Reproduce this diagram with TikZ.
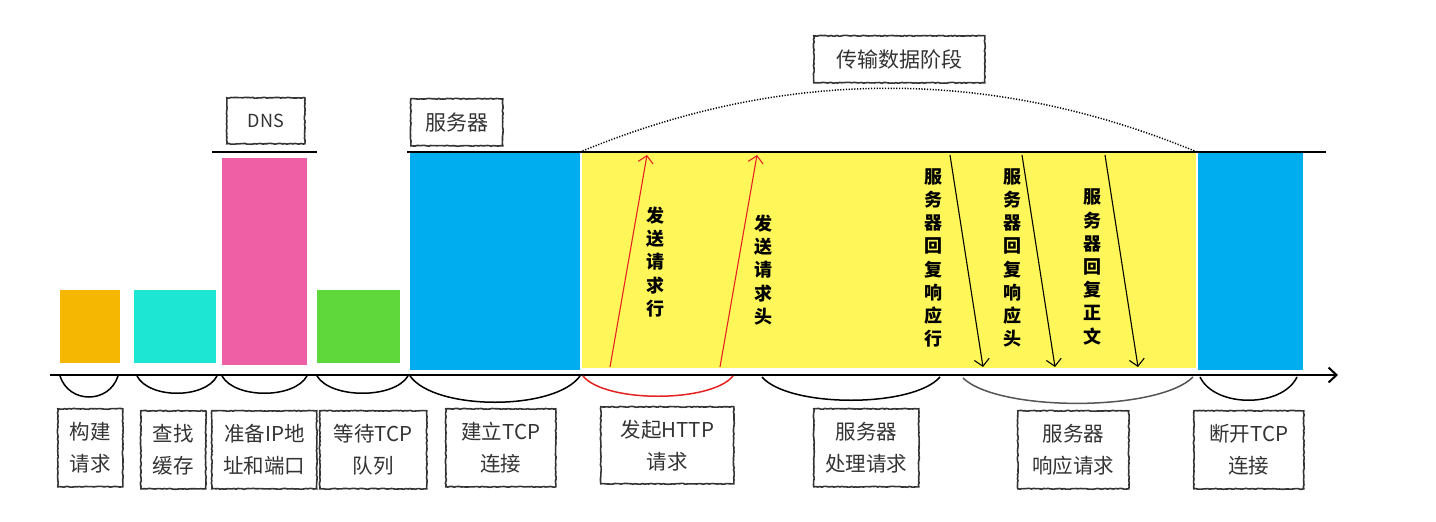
\documentclass[tikz,border=0pt]{standalone}
\usepackage{fontspec}
\setmainfont{Noto Sans CJK SC}
\usetikzlibrary{arrows.meta,decorations.pathmorphing}

\definecolor{ink}{HTML}{333333}
\definecolor{cOrange}{HTML}{F6B703}
\definecolor{cCyan}{HTML}{1DE6D2}
\definecolor{cPink}{HTML}{EE5FA5}
\definecolor{cGreen}{HTML}{5FD83B}
\definecolor{cBlue}{HTML}{00AEEF}
\definecolor{cYellow}{HTML}{FFF75A}
\definecolor{cRed}{HTML}{E52222}
\definecolor{cGrey}{HTML}{555555}

\tikzset{
  bar/.style={anchor=north west, inner sep=0pt, outer sep=0pt, draw=none},
  lbl/.style={anchor=north west, draw=ink, line width=1.6pt, text=ink,
    align=center, inner sep=0pt,
    font=\fontsize{20.5}{32}\selectfont,
    decorate, decoration={random steps, segment length=2pt, amplitude=0.45pt}},
  toplbl/.style={lbl, font=\fontsize{21}{26}\selectfont},
  vtext/.style={align=center, inner sep=0pt, text=black,
    font=\bfseries\fontsize{18}{23.2}\selectfont},
  brace/.style={line width=1.5pt, draw=black},
  upmsg/.style={cRed, line width=1.1pt, -{Straight Barb[length=7pt,width=15pt]}},
  downmsg/.style={black, line width=1.1pt, -{Straight Barb[length=7pt,width=15pt]}},
  rule/.style={line width=1.9pt, black}
}

\begin{document}
\begin{tikzpicture}[x=1pt,y=-1pt]
\useasboundingbox (0,0) rectangle (1436,522);

% phase bars
\node[bar, fill=cOrange, minimum width=60, minimum height=73] (b1) at (60,290) {};
\node[bar, fill=cCyan, minimum width=82, minimum height=73] (b2) at (134,290) {};
\node[bar, fill=cPink, minimum width=85, minimum height=207] (b3) at (222,158) {};
\node[bar, fill=cGreen, minimum width=83, minimum height=73] (b4) at (317,290) {};
\node[bar, fill=cBlue, minimum width=170, minimum height=217] (b5) at (410,153) {};
\node[bar, fill=cYellow, minimum width=614, minimum height=215] (b6) at (582,153) {};
\node[bar, fill=cBlue, minimum width=105, minimum height=217] (b7) at (1198,153) {};

% upper rules and their titles
\coordinate (dnsL) at (212,152);
\coordinate (dnsR) at (317,152);
\coordinate (srvL) at (407,152);
\coordinate (srvR) at (1326,152);
\draw[rule] (dnsL) -- (dnsR);
\draw[rule] (srvL) -- (srvR);
\node[toplbl, font=\fontsize{18}{22}\selectfont, minimum width=78, minimum height=46] (dns) at (226,97) {DNS};
\node[toplbl, minimum width=92, minimum height=47] (srv) at (410,98) {服务器};
\node[toplbl, minimum width=171, minimum height=47] (xfer) at (813,35) {传输数据阶段};

% data transfer span
\coordinate (arcL) at (580,152);
\coordinate (arcR) at (1197,152);
\draw[line width=1.5pt, dash pattern=on 1.2pt off 1.6pt] (arcL) .. controls (785,67) and (992,67) .. (arcR);

% time axis
\coordinate (t0) at (50,375);
\coordinate (t1) at (1338,375);
\draw[line width=2pt, -{Straight Barb[length=8pt,width=15pt]}] (t0) -- (t1);

% braces under the axis
\draw[brace] (60,376) .. controls (69,404) and (109,404) .. (118,376);
\draw[brace] (137,376) .. controls (149,399) and (205,399) .. (217,376);
\draw[brace] (222,376) .. controls (235,399) and (294,399) .. (307,376);
\draw[brace] (317,376) .. controls (331,399) and (394,399) .. (408,376);
\draw[brace] (410,376) .. controls (435,411) and (555,411) .. (580,376);
\draw[brace, draw=cRed] (583,376) .. controls (605,403) and (711,403) .. (733,376);
\draw[brace] (762,377) .. controls (789,408) and (913,408) .. (940,377);
\draw[brace, draw=cGrey] (963,378) .. controls (998,412) and (1158,412) .. (1193,377);
\draw[brace] (1200,377) .. controls (1215,408) and (1282,408) .. (1297,377);

% phase labels
\node[lbl, minimum width=65, minimum height=78] (l1) at (57,408) {构建\\请求};
\node[lbl, minimum width=65, minimum height=78] (l2) at (140,410) {查找\\缓存};
\node[lbl, minimum width=105, minimum height=78] (l3) at (211,410) {准备IP地\\址和端口};
\node[lbl, minimum width=107, minimum height=78] (l4) at (319,410) {等待TCP\\队列};
\node[lbl, minimum width=110, minimum height=78] (l5) at (445,408) {建立TCP\\连接};
\node[lbl, minimum width=133, minimum height=77] (l6) at (600,406) {发起HTTP\\请求};
\node[lbl, minimum width=105, minimum height=78] (l7) at (813,408) {服务器\\处理请求};
\node[lbl, minimum width=111, minimum height=78] (l8) at (1017,410) {服务器\\响应请求};
\node[lbl, minimum width=110, minimum height=78] (l9) at (1193,410) {断开TCP\\连接};

% request messages
\coordinate (u1s) at (610,367);
\coordinate (u1e) at (647,155);
\coordinate (u2s) at (720,367);
\coordinate (u2e) at (757,155);
\draw[upmsg] (u1s) -- (u1e);
\draw[upmsg] (u2s) -- (u2e);
\node[vtext] (m1) at (655,262) {发\\送\\请\\求\\行};
\node[vtext] (m2) at (763,270) {发\\送\\请\\求\\头};

% response messages
\coordinate (d1s) at (950,155);
\coordinate (d1e) at (983,367);
\coordinate (d2s) at (1022,155);
\coordinate (d2e) at (1055,367);
\coordinate (d3s) at (1105,155);
\coordinate (d3e) at (1138,367);
\draw[downmsg] (d1s) -- (d1e);
\draw[downmsg] (d2s) -- (d2e);
\draw[downmsg] (d3s) -- (d3e);
\node[vtext] (m3) at (933,258) {服\\务\\器\\回\\复\\响\\应\\行};
\node[vtext] (m4) at (1012,258) {服\\务\\器\\回\\复\\响\\应\\头};
\node[vtext] (m5) at (1092,267) {服\\务\\器\\回\\复\\正\\文};
\end{tikzpicture}
\end{document}
